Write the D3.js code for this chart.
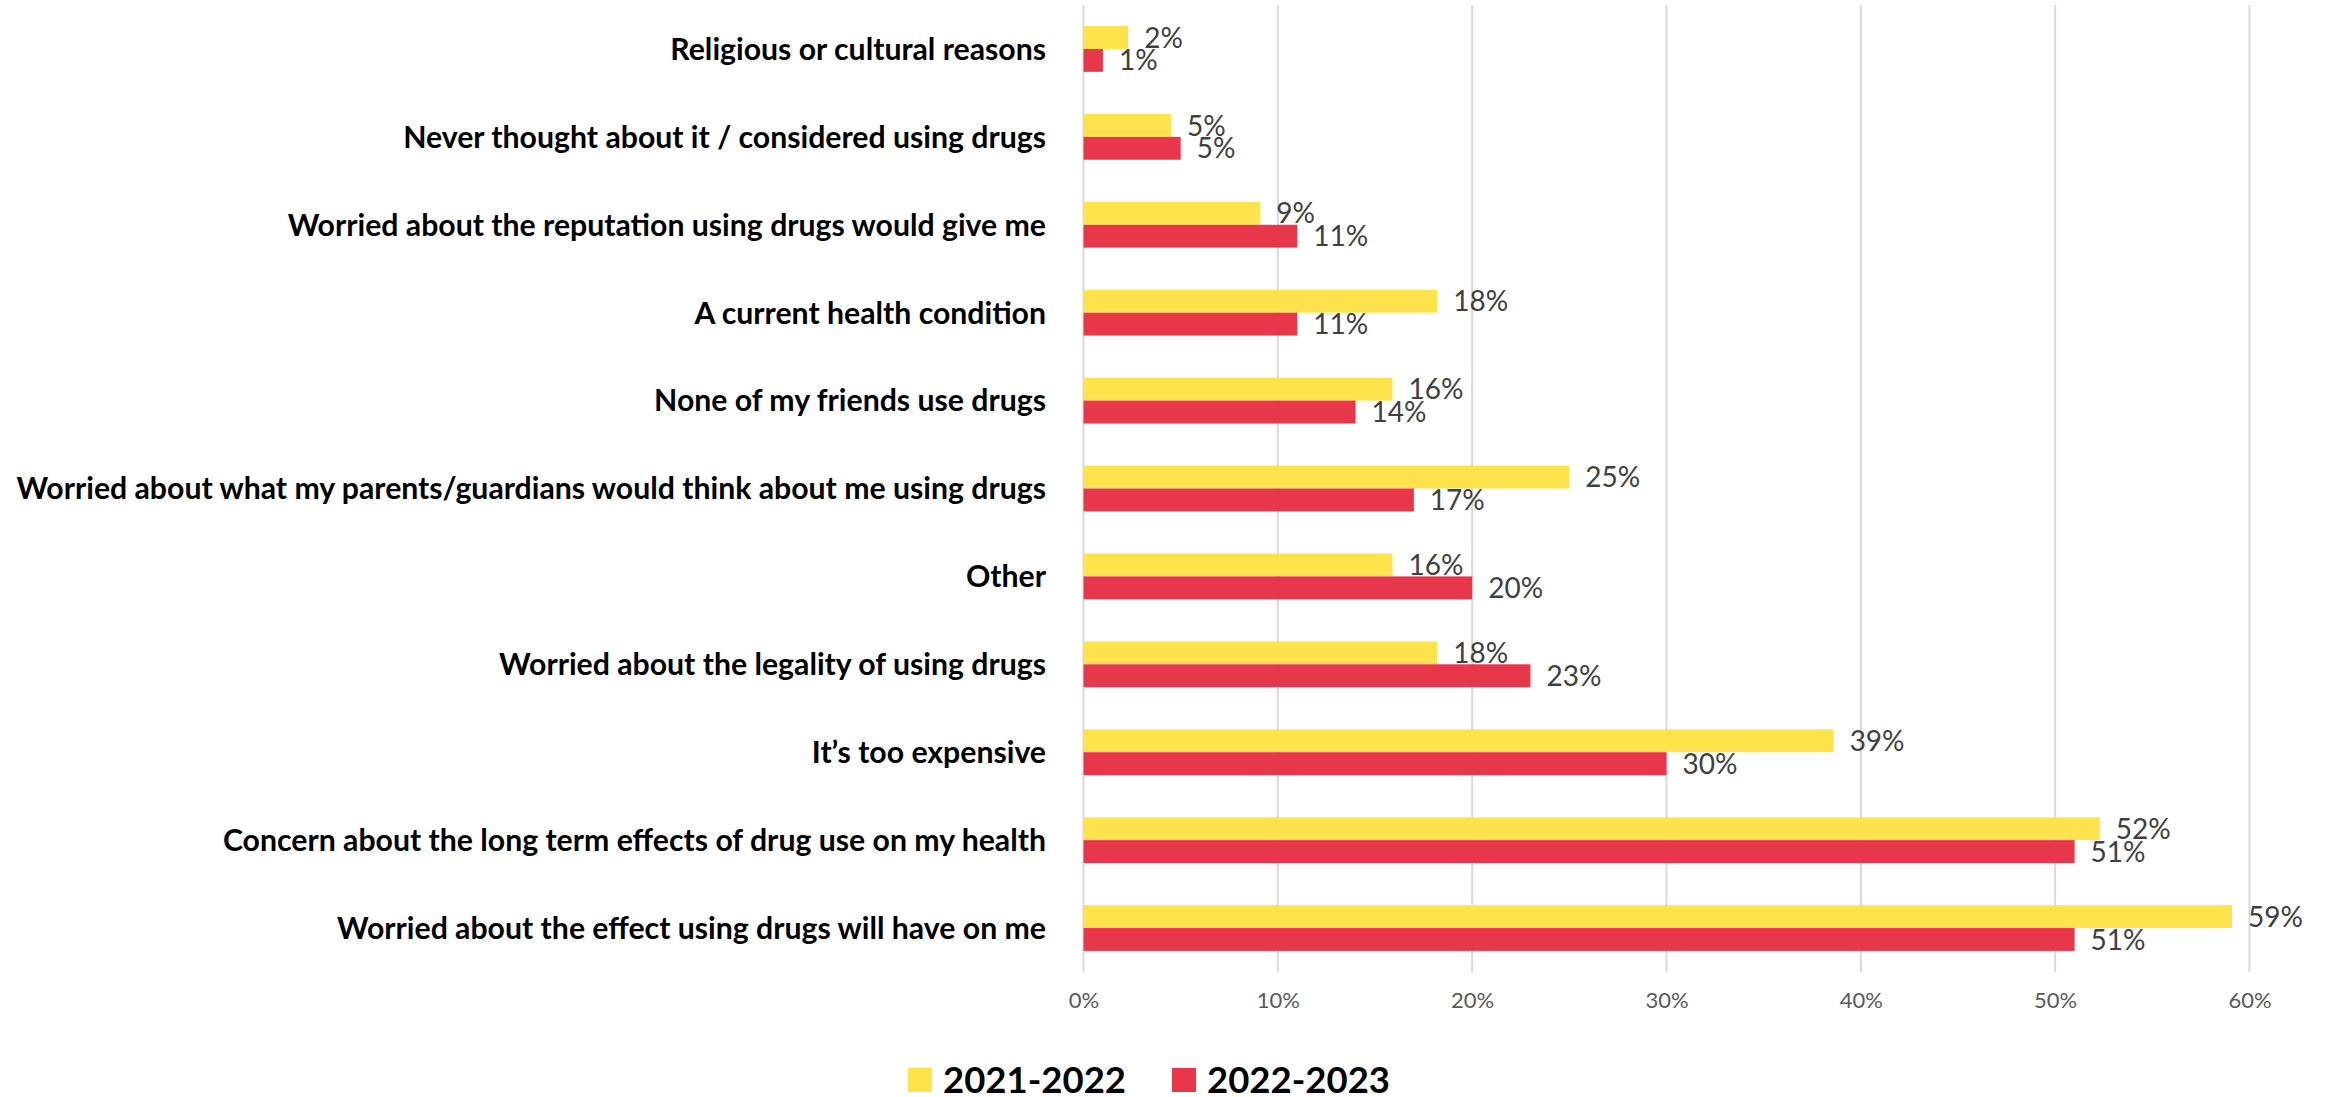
<!DOCTYPE html>
<html>
<head>
<meta charset="utf-8">
<script src="https://cdn.jsdelivr.net/npm/d3@7"></script>
<style>
  html, body { margin: 0; padding: 0; background: #fff; }
  svg { display: block; font-family: Lato, "Open Sans", "Noto Sans", sans-serif; }
</style>
</head>
<body>
<svg id="chart" width="2331" height="1097"></svg>
<script>
// Reasons given for not using drugs, top to bottom
const categories = [
  "Religious or cultural reasons",
  "Never thought about it / considered using drugs",
  "Worried about the reputation using drugs would give me",
  "A current health condition",
  "None of my friends use drugs",
  "Worried about what my parents/guardians would think about me using drugs",
  "Other",
  "Worried about the legality of using drugs",
  "It\u2019s too expensive",
  "Concern about the long term effects of drug use on my health",
  "Worried about the effect using drugs will have on me"
];
const seriesNames = ["2021-2022", "2022-2023"];
const values2021 = [0.023, 0.045, 0.091, 0.182, 0.159, 0.250, 0.159, 0.182, 0.386, 0.523, 0.591];
const values2022 = [0.010, 0.050, 0.110, 0.110, 0.140, 0.170, 0.200, 0.230, 0.300, 0.510, 0.510];
const tickValues = [0, 0.1, 0.2, 0.3, 0.4, 0.5, 0.6];
const colors = ["#FFE34D", "#E8364A"];

const svg = d3.select("#chart");
const x = d3.scaleLinear().domain([0, 0.6]).range([1083.5, 2249.5]);
const y = d3.scaleBand().domain(categories).range([5, 972]).paddingInner(0.48).paddingOuter(0.24);
const sub = d3.scaleBand().domain(seriesNames).range([0, y.bandwidth()]);
const pct = d3.format(".0%");

// shrink or grow a text's font size until it spans the given width
function fitWidth(sel, target) {
  sel.each(function () {
    const node = this;
    const fs = parseFloat(node.getAttribute("font-size"));
    const w = node.getComputedTextLength();
    node.setAttribute("font-size", (fs * target / w).toFixed(2));
  });
}

// vertical gridlines
svg.append("g")
  .selectAll("line")
  .data(tickValues)
  .join("line")
  .attr("x1", d => x(d)).attr("x2", d => x(d))
  .attr("y1", 5).attr("y2", 972)
  .attr("stroke", "#d9d9d9").attr("stroke-width", 2);

// x axis tick labels
const xAxis = svg.append("g")
  .attr("transform", "translate(0,992)")
  .call(d3.axisBottom(x).tickValues(tickValues).tickFormat(pct).tickSize(0).tickPadding(0));
xAxis.select(".domain").remove();
xAxis.selectAll("text")
  .attr("font-size", 22).attr("fill", "#595959")
  .attr("font-family", "Lato, 'Open Sans', sans-serif")
  .attr("dy", "0.71em");

// bars
const rows = categories.map((c, i) => ({ cat: c, vals: [values2021[i], values2022[i]] }));
const groups = svg.append("g").selectAll("g")
  .data(rows)
  .join("g")
  .attr("transform", d => `translate(0,${y(d.cat)})`);

groups.selectAll("rect")
  .data(d => d.vals.map((v, k) => ({ v, k })))
  .join("rect")
  .attr("x", x(0))
  .attr("y", d => sub(seriesNames[d.k]))
  .attr("width", d => x(d.v) - x(0))
  .attr("height", sub.bandwidth())
  .attr("fill", d => colors[d.k]);

// value labels
groups.selectAll("text")
  .data(d => d.vals.map((v, k) => ({ v, k })))
  .join("text")
  .attr("x", d => x(d.v) + 16)
  .attr("y", d => sub(seriesNames[d.k]) + sub.bandwidth() / 2)
  .attr("dy", "0.36em")
  .attr("font-size", 28)
  .attr("fill", "#404040")
  .text(d => pct(d.v));

// category labels
const catLabels = svg.append("g").selectAll("text")
  .data(categories)
  .join("text")
  .attr("x", 1046)
  .attr("y", d => y(d) + y.bandwidth() / 2)
  .attr("dy", "0.36em")
  .attr("text-anchor", "end")
  .attr("font-size", 30)
  .attr("font-weight", "bold")
  .attr("fill", "#000")
  .text(d => d);
// size every label from the longest one
const longest = catLabels.filter(d => d === categories[5]);
const base = 30, w0 = longest.node().getComputedTextLength();
catLabels.attr("font-size", (base * 1030 / w0).toFixed(2));

// legend
const legend = svg.append("g");
const legendX = [908, 1172];
seriesNames.forEach((s, k) => {
  legend.append("rect")
    .attr("x", legendX[k]).attr("y", 1068)
    .attr("width", 24).attr("height", 24)
    .attr("fill", colors[k]);
  const t = legend.append("text")
    .attr("x", legendX[k] + 35).attr("y", 1080)
    .attr("dy", "0.36em")
    .attr("font-size", 40).attr("font-weight", "bold").attr("fill", "#000")
    .text(s);
  fitWidth(t, 183);
});
</script>
</body>
</html>
